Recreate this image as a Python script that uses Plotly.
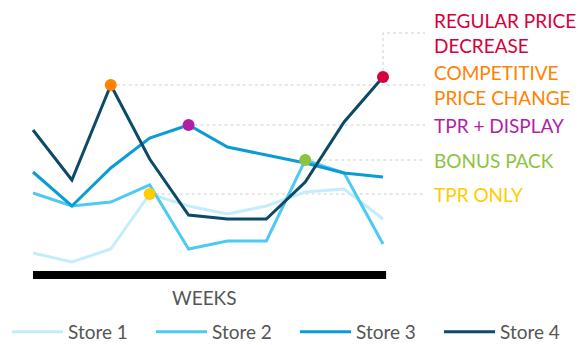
import plotly.graph_objects as go

weeks = [1, 2, 3, 4, 5, 6, 7, 8, 9, 10]
store1 = [13.5, 9, 15.5, 43, 37, 33, 37, 44, 45.5, 30.5]
store2 = [43.5, 37, 39, 47.5, 15.5, 19.5, 19.5, 60, 53.5, 18]
store3 = [54, 37, 56, 71, 77.5, 66.5, 62.5, 58.5, 53.5, 51.5]
store4 = [75, 50, 97.5, 60.5, 32.5, 30.5, 30.5, 49, 79, 101.5]

series_names = ["Store 1", "Store 2", "Store 3", "Store 4"]
series_values = [store1, store2, store3, store4]
series_colors = ["#c4edfb", "#4ec9f4", "#0b9cd6", "#0c4a67"]

# events: label, color, series index, week index
event_labels = ["REGULAR PRICE<br>DECREASE", "COMPETITIVE<br>PRICE CHANGE", "TPR + DISPLAY", "BONUS PACK", "TPR ONLY"]
event_colors = ["#d6003c", "#ff8200", "#b11fa6", "#8cc43f", "#ffcc00"]
event_series = [3, 3, 2, 1, 0]
event_week = [9, 2, 4, 7, 3]
label_levels = [123.5, None, None, None, None]  # None -> same level as the dot

guide_end = 11.08
label_x = 11.26
bar_level = 2.5

fig = go.Figure()

# guide lines (beneath)
for lab, col, si, wi, lvl in zip(event_labels, event_colors, event_series, event_week, label_levels):
    xv = weeks[wi]
    yv = series_values[si][wi]
    if lvl is None:
        gx = [xv, guide_end]
        gy = [yv, yv]
    else:
        gx = [xv, xv, guide_end]
        gy = [yv, lvl, lvl]
    fig.add_trace(go.Scatter(x=gx, y=gy, mode="lines", showlegend=False, hoverinfo="skip",
                             line=dict(color="#cfcfcf", width=1, dash="dot")))

for name, vals, col in zip(series_names, series_values, series_colors):
    fig.add_trace(go.Scatter(x=weeks, y=vals, name=name, mode="lines",
                             line=dict(color=col, width=3)))

for lab, col, si, wi, lvl in zip(event_labels, event_colors, event_series, event_week, label_levels):
    xv = weeks[wi]
    yv = series_values[si][wi]
    fig.add_trace(go.Scatter(x=[xv], y=[yv], mode="markers", showlegend=False, hoverinfo="skip",
                             marker=dict(color=col, size=12)))
    fig.add_annotation(xref="x", yref="y", x=label_x, y=(yv if lvl is None else lvl),
                       text=lab, showarrow=False, xanchor="left", yanchor="middle", align="left",
                       font=dict(family="Lato", size=19, color=col))

fig.add_shape(type="line", xref="x", yref="y", x0=weeks[0], x1=weeks[-1] + 0.08,
              y0=bar_level, y1=bar_level, line=dict(color="black", width=8))

fig.add_annotation(xref="x", yref="paper", x=5.4, y=(285 - 297) / 265,
                   text="WEEKS", showarrow=False, xanchor="center", yanchor="middle",
                   font=dict(family="Lato", size=19, color="#555555"))

fig.update_layout(
    width=583, height=345,
    margin=dict(l=0, r=0, t=20, b=60),
    paper_bgcolor="white", plot_bgcolor="white",
    xaxis=dict(range=[1 - 33 / 38.89, 1 + 550 / 38.89], visible=False, fixedrange=True),
    yaxis=dict(range=[-2.5, 130], visible=False, fixedrange=True),
    showlegend=True,
    legend=dict(orientation="h", xref="container", yref="container",
                x=7 / 583, y=(345 - 332) / 345, xanchor="left", yanchor="middle",
                itemwidth=51, entrywidth=78, entrywidthmode="pixels",
                font=dict(family="Lato", size=19, color="#555555"), traceorder="normal"),
)

fig.write_html("out.html")
